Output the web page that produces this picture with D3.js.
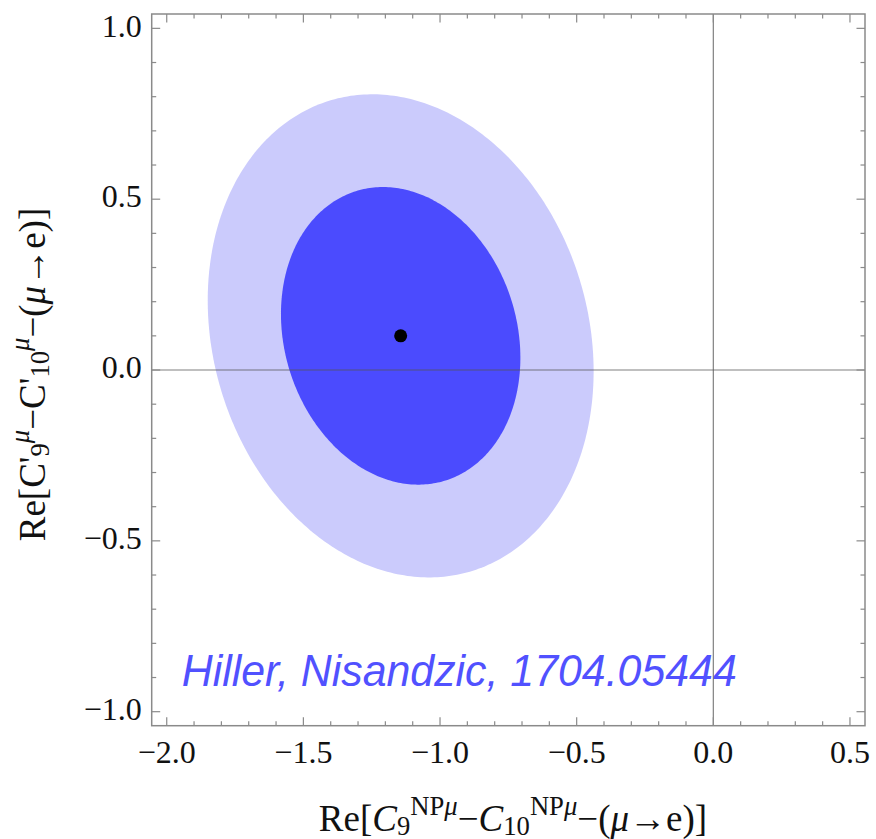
<!DOCTYPE html>
<html>
<head>
<meta charset="utf-8">
<script src="https://cdn.jsdelivr.net/npm/d3@7"></script>
<style>
  html, body { margin: 0; padding: 0; background: #ffffff; }
  svg { display: block; }
</style>
</head>
<body>
<script>
// Best-fit point of the global fit
const bestFit = { x: -1.144, y: 0.100 };

// Confidence regions (outer = 2σ, inner = 1σ): half-extents along each axis and correlation
const regionNames = ["2σ", "1σ"];
const regionHalfX = [0.706, 0.438];
const regionHalfY = [0.707, 0.4355];
const regionCorrelation = [-0.147, -0.147];
const regionColors = ["#cbcbfc", "#4b4bfe"];

// Axis ticks
const xMajorTicks = [-2.0, -1.5, -1.0, -0.5, 0.0, 0.5];
const xTickLabels = ["\u22122.0", "\u22121.5", "\u22121.0", "\u22120.5", "0.0", "0.5"];
const yMajorTicks = [-1.0, -0.5, 0.0, 0.5, 1.0];
const yTickLabels = ["\u22121.0", "\u22120.5", "0.0", "0.5", "1.0"];
const xMinorTicks = d3.range(-20, 6).map(i => i / 10).filter(v => !xMajorTicks.some(m => Math.abs(m - v) < 1e-9));
const yMinorTicks = d3.range(-10, 11).map(i => i / 10).filter(v => !yMajorTicks.some(m => Math.abs(m - v) < 1e-9));

const W = 876, H = 839;
const margin = { left: 151.7, top: 14, right: W - 865, bottom: H - 725.7 };
const iw = W - margin.left - margin.right;
const ih = H - margin.top - margin.bottom;

const x = d3.scaleLinear().domain([-2.055, 0.555]).range([0, iw]);
const y = d3.scaleLinear().domain([-1.041, 1.042]).range([ih, 0]);

const svg = d3.select("body").append("svg").attr("width", W).attr("height", H);
const g = svg.append("g").attr("transform", `translate(${margin.left},${margin.top})`);

// Confidence ellipses
const angles = d3.range(0, 360, 1).map(a => a * Math.PI / 180);
const line = d3.line().x(d => x(d[0])).y(d => y(d[1])).curve(d3.curveLinearClosed);
regionNames.forEach((name, i) => {
  const ax = regionHalfX[i], ay = regionHalfY[i], r = regionCorrelation[i];
  const s = Math.sqrt(1 - r * r);
  const pts = angles.map(t => [
    bestFit.x + ax * Math.cos(t),
    bestFit.y + ay * (r * Math.cos(t) + s * Math.sin(t))
  ]);
  g.append("path").attr("d", line(pts)).attr("fill", regionColors[i]).attr("stroke", "none");
});

// Author / reference annotation
g.append("text")
  .attr("x", x(-1.945)).attr("y", 686 - margin.top)
  .attr("font-family", "'Helvetica Neue', 'Liberation Sans', Arial, sans-serif")
  .attr("font-style", "italic")
  .attr("font-weight", 300)
  .attr("font-size", 45)
  .attr("fill", "#5151ff")
  .attr("textLength", 555)
  .attr("lengthAdjust", "spacingAndGlyphs")
  .text("Hiller, Nisandzic, 1704.05444");

// Zero axes
g.append("line").attr("x1", 0).attr("x2", iw).attr("y1", y(0)).attr("y2", y(0))
  .attr("stroke", "#555").attr("stroke-opacity", 0.75).attr("stroke-width", 1.2);
g.append("line").attr("x1", x(0)).attr("x2", x(0)).attr("y1", 0).attr("y2", ih)
  .attr("stroke", "#555").attr("stroke-opacity", 0.75).attr("stroke-width", 1.2);

// Best-fit point
g.append("circle").attr("cx", x(bestFit.x)).attr("cy", y(bestFit.y)).attr("r", 6.5).attr("fill", "#000");

// Frame
const frameColor = "#8a8a8a";
g.append("rect").attr("x", 0).attr("y", 0).attr("width", iw).attr("height", ih)
  .attr("fill", "none").attr("stroke", frameColor).attr("stroke-width", 1.5);

// Inward ticks on all four sides
const majorLen = 8.5, minorLen = 4.5;
const tickG = g.append("g").attr("stroke", frameColor).attr("stroke-width", 1.2);
function xTicks(vals, len) {
  vals.forEach(v => {
    tickG.append("line").attr("x1", x(v)).attr("x2", x(v)).attr("y1", ih).attr("y2", ih - len);
    tickG.append("line").attr("x1", x(v)).attr("x2", x(v)).attr("y1", 0).attr("y2", len);
  });
}
function yTicks(vals, len) {
  vals.forEach(v => {
    tickG.append("line").attr("y1", y(v)).attr("y2", y(v)).attr("x1", 0).attr("x2", len);
    tickG.append("line").attr("y1", y(v)).attr("y2", y(v)).attr("x1", iw).attr("x2", iw - len);
  });
}
xTicks(xMajorTicks, majorLen); xTicks(xMinorTicks, minorLen);
yTicks(yMajorTicks, majorLen); yTicks(yMinorTicks, minorLen);

// Tick labels
const serif = "'Liberation Serif', 'Times New Roman', serif";
xMajorTicks.forEach((v, i) => {
  g.append("text").attr("x", x(v)).attr("y", ih + 37.6)
    .attr("text-anchor", "middle").attr("font-family", serif).attr("font-size", 32).attr("fill", "#111")
    .text(xTickLabels[i]);
});
yMajorTicks.forEach((v, i) => {
  g.append("text").attr("x", -10).attr("y", y(v) + 8.3)
    .attr("text-anchor", "end").attr("font-family", serif).attr("font-size", 32).attr("fill", "#111")
    .text(yTickLabels[i]);
});

// Axis titles
const fs = 37;
const small = fs * 0.72;
const subDrop = 3.5, supRise = 16.5;
function part(sel, txt, opts) {
  const t = sel.append("tspan").text(txt);
  if (opts) {
    if (opts.italic) t.attr("font-style", "italic");
    if (opts.size) t.attr("font-size", opts.size);
    if (opts.dy !== undefined) t.attr("dy", opts.dy);
  }
  return t;
}

const xt = svg.append("text").attr("x", 513).attr("y", 831)
  .attr("text-anchor", "middle").attr("font-family", serif).attr("font-size", fs).attr("fill", "#111");
part(xt, "Re[");
part(xt, "C", { italic: true });
part(xt, "9", { size: small, dy: subDrop });
part(xt, "NP", { size: small, dy: -(subDrop + supRise) });
part(xt, "\u03bc", { size: small, italic: true });
part(xt, "\u2212", { dy: supRise });
part(xt, "C", { italic: true });
part(xt, "10", { size: small, dy: subDrop });
part(xt, "NP", { size: small, dy: -(subDrop + supRise) });
part(xt, "\u03bc", { size: small, italic: true });
part(xt, "\u2212(", { dy: supRise });
part(xt, "\u03bc", { italic: true });
part(xt, "\u2192e)]");

const yt = svg.append("text")
  .attr("transform", "translate(45,374.5) rotate(-90)")
  .attr("text-anchor", "middle").attr("font-family", serif).attr("font-size", fs).attr("fill", "#111");
part(yt, "Re[C'");
part(yt, "9", { size: small, dy: subDrop });
part(yt, "\u03bc", { size: small, italic: true, dy: -(subDrop + supRise) });
part(yt, "\u2212C'", { dy: supRise });
part(yt, "10", { size: small, dy: subDrop });
part(yt, "\u03bc", { size: small, italic: true, dy: -(subDrop + supRise) });
part(yt, "\u2212(", { dy: supRise });
part(yt, "\u03bc", { italic: true });
part(yt, "\u2192e)]");
</script>
</body>
</html>
